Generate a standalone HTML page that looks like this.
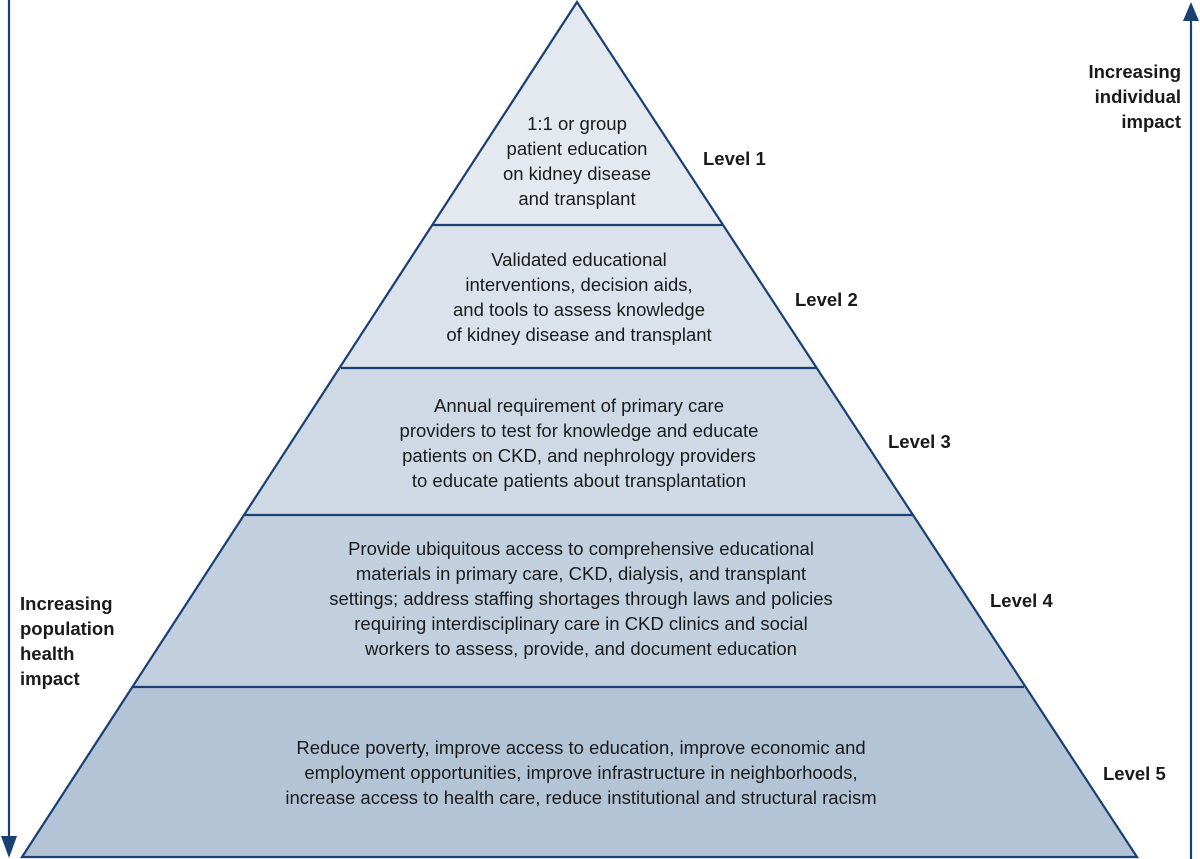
<!DOCTYPE html>
<html><head><style>
body{margin:0;background:#fff;}
svg{display:block;}
text{font-family:"Liberation Sans",Arial,sans-serif;fill:#1a1a1a;}
.t{font-size:18.5px;text-anchor:middle;}
.b{font-size:18.5px;font-weight:bold;}
</style></head><body>
<svg width="1200" height="859" viewBox="0 0 1200 859">
<defs><clipPath id="c"><polygon points="577,2 22,857 1137,857"/></clipPath></defs>
<g clip-path="url(#c)">
<rect x="0" y="0" width="1200" height="225" fill="#e4e9f0"/>
<rect x="0" y="225" width="1200" height="143" fill="#dbe2eb"/>
<rect x="0" y="368" width="1200" height="147" fill="#cfd9e5"/>
<rect x="0" y="515" width="1200" height="172" fill="#c2cfdf"/>
<rect x="0" y="687" width="1200" height="172" fill="#b4c4d7"/>
</g>
<g stroke="#1a3f73" stroke-width="2.2" fill="none">
<polygon points="577,2 22,857 1137,857"/>
<line x1="433" y1="225" x2="722" y2="225"/>
<line x1="341" y1="368" x2="816" y2="368"/>
<line x1="245" y1="515" x2="913" y2="515"/>
<line x1="133" y1="687" x2="1024" y2="687"/>
<line x1="9" y1="0" x2="9" y2="838"/>
<line x1="1191" y1="859" x2="1191" y2="20"/>
</g>
<polygon points="1,836 17,836 9,858" fill="#1a3f73"/>
<polygon points="1183,21 1199,21 1191,2" fill="#1a3f73"/>
<text class="t"><tspan x="577" y="130">1:1 or group</tspan><tspan x="577" y="155">patient education</tspan><tspan x="577" y="180">on kidney disease</tspan><tspan x="577" y="205">and transplant</tspan></text>
<text class="t"><tspan x="579" y="266">Validated educational</tspan><tspan x="579" y="291">interventions, decision aids,</tspan><tspan x="579" y="316">and tools to assess knowledge</tspan><tspan x="579" y="341">of kidney disease and transplant</tspan></text>
<text class="t"><tspan x="579" y="412">Annual requirement of primary care</tspan><tspan x="579" y="437">providers to test for knowledge and educate</tspan><tspan x="579" y="462">patients on CKD, and nephrology providers</tspan><tspan x="579" y="487">to educate patients about transplantation</tspan></text>
<text class="t"><tspan x="581" y="555">Provide ubiquitous access to comprehensive educational</tspan><tspan x="581" y="580">materials in primary care, CKD, dialysis, and transplant</tspan><tspan x="581" y="605">settings; address staffing shortages through laws and policies</tspan><tspan x="581" y="630">requiring interdisciplinary care in CKD clinics and social</tspan><tspan x="581" y="655">workers to assess, provide, and document education</tspan></text>
<text class="t"><tspan x="581" y="754">Reduce poverty, improve access to education, improve economic and</tspan><tspan x="581" y="779">employment opportunities, improve infrastructure in neighborhoods,</tspan><tspan x="581" y="804">increase access to health care, reduce institutional and structural racism</tspan></text>
<text class="b" x="703" y="165">Level 1</text>
<text class="b" x="795" y="306">Level 2</text>
<text class="b" x="888" y="448">Level 3</text>
<text class="b" x="990" y="607">Level 4</text>
<text class="b" x="1103" y="780">Level 5</text>
<text class="b" text-anchor="end"><tspan x="1181" y="78">Increasing</tspan><tspan x="1181" y="103">individual</tspan><tspan x="1181" y="128">impact</tspan></text>
<text class="b"><tspan x="20" y="610">Increasing</tspan><tspan x="20" y="635">population</tspan><tspan x="20" y="660">health</tspan><tspan x="20" y="685">impact</tspan></text>
</svg>
</body></html>
